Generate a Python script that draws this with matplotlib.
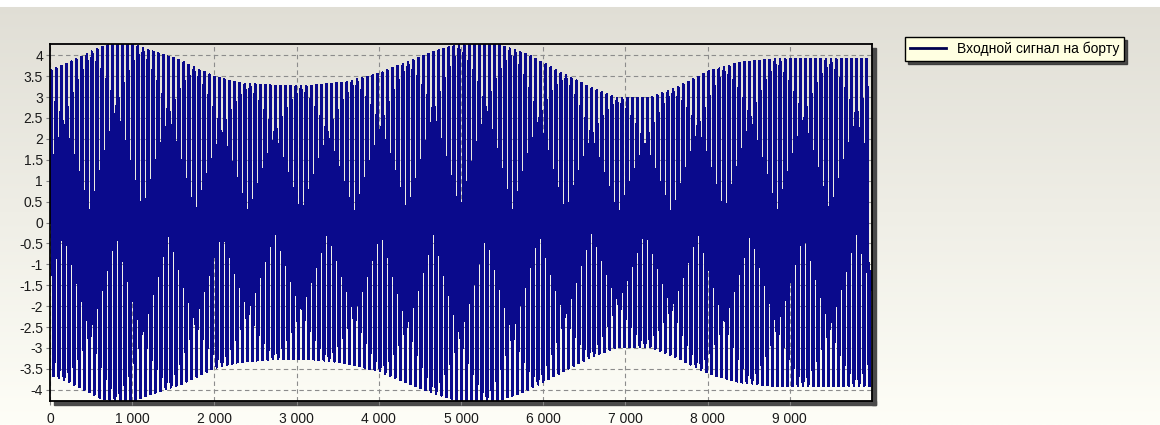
import numpy as np
import matplotlib
matplotlib.use("Agg")
import matplotlib.pyplot as plt
from matplotlib.ticker import FixedLocator, FuncFormatter
from matplotlib.patches import Rectangle

# ---- data ----
series_name = "Входной сигнал на борту"
# amplitude envelope of the on-board input signal (x in samples, amplitude)
env_x = [0, 300, 600, 800, 1000, 1200, 1600, 2000, 2300, 2700, 3200, 3600, 4000,
         4300, 4650, 5000, 5400, 5800, 6200, 6600, 6900, 7300, 7600, 8000, 8400,
         8800, 9200, 10000]
env_amp = [3.63, 3.88, 4.18, 4.28, 4.28, 4.12, 3.86, 3.48, 3.33, 3.27, 3.27, 3.35, 3.55,
           3.8, 4.07, 4.27, 4.28, 4.02, 3.6, 3.2, 2.97, 2.97, 3.2, 3.6, 3.82,
           3.9, 3.9, 3.9]
carrier_period = 62.0      # samples per oscillation
n_samples = 9980
x_ticks = [0, 1000, 2000, 3000, 4000, 5000, 6000, 7000, 8000, 9000]
y_ticks = [4, 3.5, 3, 2.5, 2, 1.5, 1, 0.5, 0, -0.5, -1, -1.5, -2, -2.5, -3, -3.5, -4]

t = np.arange(n_samples, dtype=float)
signal = np.interp(t, env_x, env_amp) * np.sin(2 * np.pi * t / carrier_period)

# ---- figure ----
W, H = 1160, 425
fig = plt.figure(figsize=(W / 100, H / 100), dpi=100)
plt.rcParams['path.simplify'] = False

# background gradient
bg = fig.add_axes([0, 0, 1, 1], zorder=-10)
bg.set_axis_off()
top = np.array([224, 222, 213]) / 255
bot = np.array([254, 254, 247]) / 255
g = np.linspace(0, 1, 425)[:, None]
grad = top * (1 - g) + bot * g
grad[:7] = 1.0
img = np.repeat(grad[:, None, :], 2, axis=1)
bg.imshow(img, aspect='auto', extent=[0, 1, 0, 1], origin='upper')
bg.set_xlim(0, 1)
bg.set_ylim(0, 1)

# axes placement (pixels)
L, R, T, B = 50, 872, 44, 401
ax = fig.add_axes([L / W, 1 - B / H, (R - L) / W, (B - T) / H])
ax.set_facecolor('none')

# frame shadow
sh = '#4a4a4a'
fig.patches.append(Rectangle((R / W, 1 - (B + 4) / H), 4 / W, (B - T) / H,
                             transform=fig.transFigure, color=sh, zorder=-5))
fig.patches.append(Rectangle(((L + 4) / W, 1 - (B + 4) / H), (R - L) / W, 4 / H,
                             transform=fig.transFigure, color=sh, zorder=-5))

ax.plot(t, signal, color='#0a0a8c', lw=1.2, label=series_name, antialiased=False,
        solid_joinstyle='miter')

ax.set_xlim(0, 10000)
ax.set_ylim(-4.27, 4.27)
ax.xaxis.set_major_locator(FixedLocator(x_ticks))
ax.yaxis.set_major_locator(FixedLocator(y_ticks))
ax.xaxis.set_major_formatter(FuncFormatter(lambda v, p: f"{int(round(v)):,}".replace(",", " ")))
ax.yaxis.set_major_formatter(FuncFormatter(lambda v, p: f"{v:g}"))
ax.grid(True, color='#8c8c8c', linestyle=(0, (4, 3)), linewidth=0.8)
ax.set_axisbelow(True)
for s in ax.spines.values():
    s.set_color('black')
    s.set_linewidth(1.3)
    s.set_zorder(5)
ax.tick_params(axis='both', direction='out', length=3, color='#808080',
               labelsize=10, labelcolor='#1a1a1a', labelfontfamily='Liberation Sans')
ax.tick_params(axis='x', pad=5)
ax.tick_params(axis='y', pad=2)

leg = ax.legend(loc='upper left', bbox_to_anchor=(905 / W, 1 - 37 / H),
                bbox_transform=fig.transFigure, frameon=True, fancybox=False,
                shadow={'color': '#303030', 'alpha': 0.85},
                facecolor='#ffffe1', edgecolor='black', framealpha=1,
                prop={'family': 'Liberation Sans', 'size': 10},
                handlelength=2.6, handletextpad=0.8, borderpad=0.35,
                borderaxespad=0)
leg.get_frame().set_linewidth(1.0)
for ln in leg.get_lines():
    ln.set_color('#000050')
    ln.set_linewidth(2.0)
    ln.set_antialiased(True)

fig.savefig('out.png', dpi=100)
